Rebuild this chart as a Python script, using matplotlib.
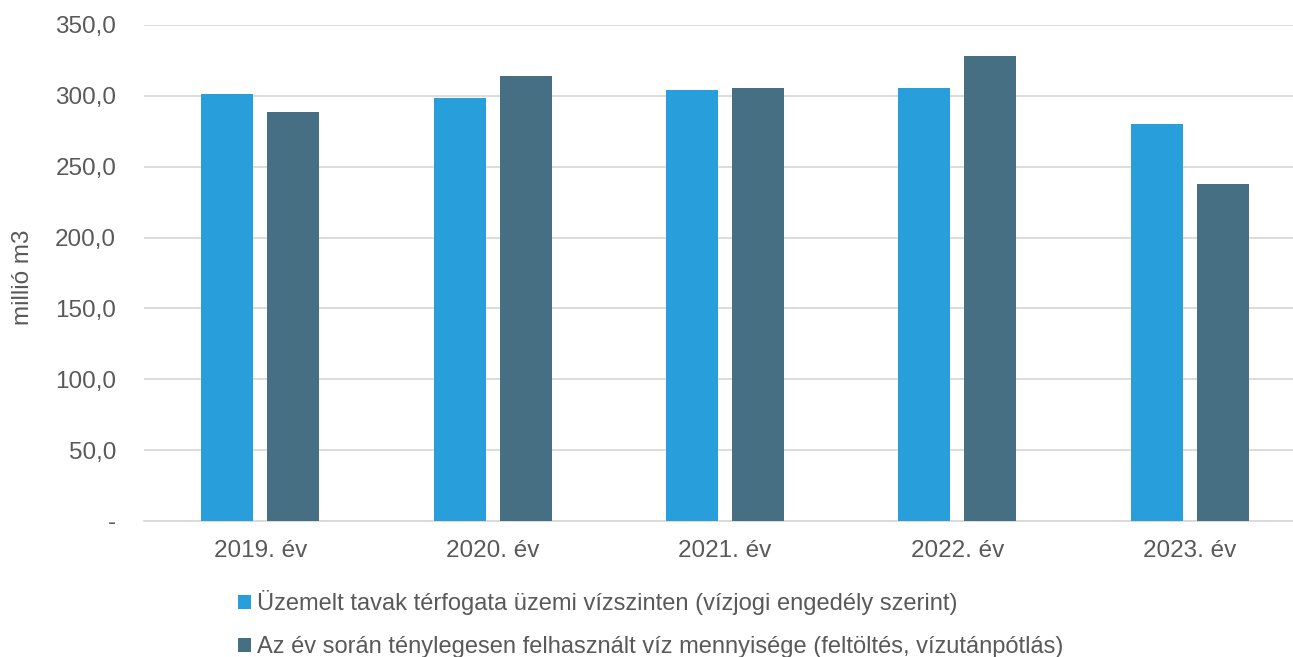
import matplotlib
matplotlib.use("Agg")
import matplotlib.pyplot as plt
import numpy as np
from matplotlib.patches import Patch

categories = ["2019. év", "2020. év", "2021. év", "2022. év", "2023. év"]
series1_name = "Üzemelt tavak térfogata üzemi vízszinten (vízjogi engedély szerint)"
series2_name = "Az év során ténylegesen felhasznált víz mennyisége (feltöltés, vízutánpótlás)"
series1 = [301.5, 298.6, 304.2, 305.6, 280.2]
series2 = [288.7, 314.1, 305.6, 328.2, 237.9]
yticks = [0, 50, 100, 150, 200, 250, 300, 350]
ylabel = "millió m3"

c1 = "#289FDB"
c2 = "#466F84"
txt = "#595959"

plt.rcParams['font.family'] = ['Liberation Sans', 'DejaVu Sans']

fig = plt.figure(figsize=(12.93, 6.57), dpi=100)
ax = fig.add_axes([144/1293, 136/657, (1306-144)/1293, (521-25)/657])

x = np.arange(len(categories))
w = 0.224
off = 0.142
ax.bar(x - off, series1, width=w, color=c1, zorder=3)
ax.bar(x + off, series2, width=w, color=c2, zorder=3)

ax.set_xlim(-0.5, len(categories) - 0.5)
ax.set_ylim(0, 350)
ax.set_yticks(yticks)
ax.set_yticklabels(["-" if v == 0 else f"{v:.1f}".replace(".", ",") for v in yticks])
ax.set_xticks(x)
ax.set_xticklabels(categories)
ax.tick_params(axis='both', length=0, colors=txt, labelsize=17.5)
ax.tick_params(axis='y', pad=20)
ax.tick_params(axis='x', pad=14)
ax.grid(axis='y', color='#D9D9D9', linewidth=1.3, zorder=0)
for s in ['top', 'right', 'left']:
    ax.spines[s].set_visible(False)
ax.spines['bottom'].set_color('#D9D9D9')
ax.spines['bottom'].set_linewidth(1.3)

fig.text(23/1293, 1 - 277/657, ylabel, rotation=90, va='center', ha='center', color=txt, fontsize=17.5)

handles = [Patch(facecolor=c1), Patch(facecolor=c2)]
fig.legend(handles, [series1_name, series2_name], loc='upper left',
           bbox_to_anchor=(238/1293, 1 - 590/657), frameon=False, ncol=1,
           fontsize=17, labelcolor=txt, handlelength=0.55, handleheight=0.55,
           handletextpad=0.25, labelspacing=0.9, borderaxespad=0, borderpad=0)

fig.savefig("out.png", dpi=100)
